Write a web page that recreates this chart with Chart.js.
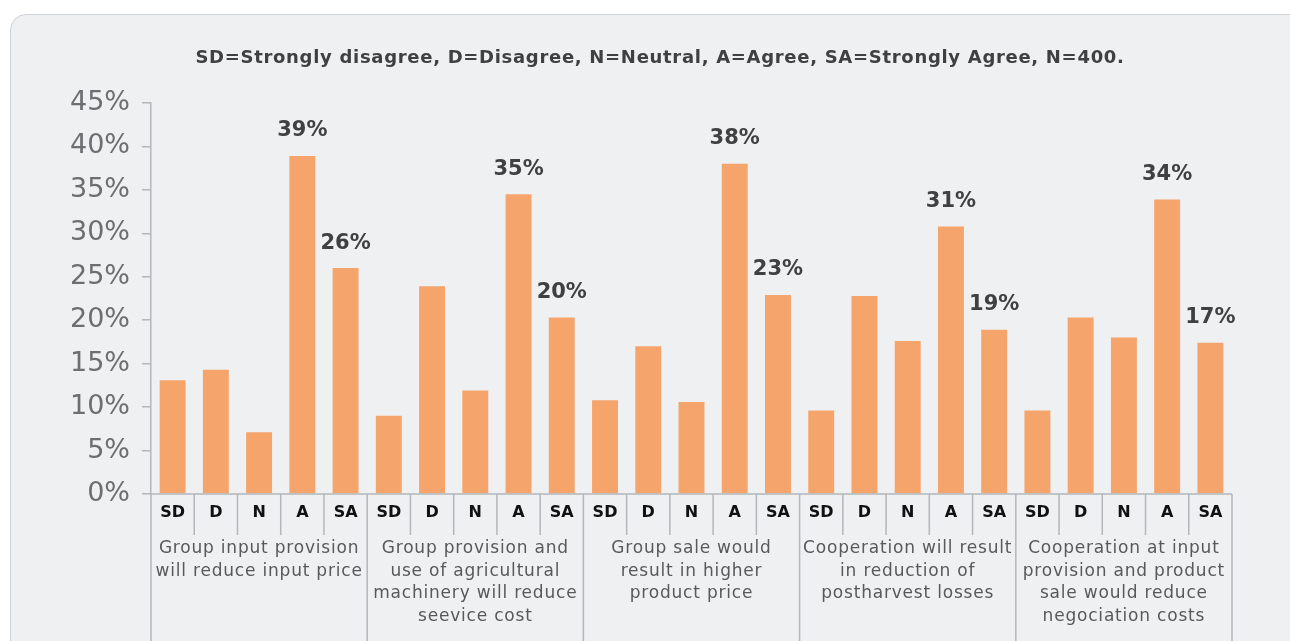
<!DOCTYPE html>
<html>
<head>
<meta charset="utf-8">
<script src="https://cdn.jsdelivr.net/npm/chart.js@4"></script>
<style>
  html, body { margin: 0; padding: 0; background: #ffffff; overflow: hidden; }
  .wrap { position: relative; width: 1290px; height: 641px; }
  .card {
    position: absolute; left: 10px; top: 14px; width: 1320px; height: 680px;
    background: #eff0f2; border: 1.5px solid #cfd3d7; border-radius: 16px;
  }
  canvas { position: absolute; left: 0; top: 0; }
</style>
</head>
<body>
<div class="wrap">
  <div class="card"></div>
  <canvas id="likertChart" width="1290" height="641"></canvas>
</div>
<script>
// answer levels inside each statement
const categories = ['SD', 'D', 'N', 'A', 'SA'];

// statements (already broken into lines like the original)
const statements = [
  ['Group input provision', 'will reduce input price'],
  ['Group provision and', 'use of agricultural', 'machinery will reduce', 'seevice cost'],
  ['Group sale would', 'result in higher', 'product price'],
  ['Cooperation will result', 'in reduction of', 'postharvest losses'],
  ['Cooperation at input', 'provision and product', 'sale would reduce', 'negociation costs']
];

// share of respondents (%) per answer level, one array per statement
const inputPrice = [13.1, 14.3, 7.1, 38.9, 26.0];
const machineryCost = [9.0, 23.9, 11.9, 34.5, 20.3];
const saleProductPrice = [10.8, 17.0, 10.6, 38.0, 22.9];
const postharvestLosses = [9.6, 22.8, 17.6, 30.8, 18.9];
const negotiationCosts = [9.6, 20.3, 18.0, 33.9, 17.4];

const yTicks = [0, 5, 10, 15, 20, 25, 30, 35, 40, 45];
const labelledLevels = ['A', 'SA'];
const titleText = 'SD=Strongly disagree, D=Disagree, N=Neutral, A=Agree, SA=Strongly Agree, N=400.';

const FONT = '"DejaVu Sans", "Noto Sans", sans-serif';
const LINE = '#b4b6b9';

const labels = [];
statements.forEach(() => categories.forEach(c => labels.push(c)));
const values = [].concat(inputPrice, machineryCost, saleProductPrice, postharvestLosses, negotiationCosts);

// draws title, value labels and the two-level category axis
const decorations = {
  id: 'decorations',
  afterDraw(chart) {
    const ctx = chart.ctx;
    const x = chart.scales.x;
    const area = chart.chartArea;
    const n = labels.length;
    const step = (area.right - area.left) / n;

    ctx.save();

    // title
    ctx.fillStyle = '#3f4042';
    ctx.font = 'bold 18px ' + FONT;
    ctx.letterSpacing = '0.7px';
    ctx.textAlign = 'center';
    ctx.textBaseline = 'middle';
    ctx.fillText(titleText, 660, 58);

    // value labels above A and SA bars
    const meta = chart.getDatasetMeta(0);
    ctx.font = 'bold 21px ' + FONT;
    ctx.letterSpacing = '0px';
    ctx.fillStyle = '#3f4042';
    meta.data.forEach((bar, i) => {
      if (labelledLevels.includes(labels[i])) {
        ctx.fillText(Math.round(values[i]) + '%', bar.x, bar.y - 25);
      }
    });

    // base line + separators
    ctx.strokeStyle = LINE;
    ctx.lineWidth = 1.5;
    ctx.beginPath();
    ctx.moveTo(area.left, area.bottom);
    ctx.lineTo(area.right, area.bottom);
    for (let i = 0; i <= n; i++) {
      const px = area.left + i * step;
      ctx.moveTo(px, area.bottom);
      ctx.lineTo(px, i % categories.length === 0 ? chart.height : area.bottom + 41);
    }
    ctx.stroke();

    // answer level labels
    ctx.fillStyle = '#111111';
    ctx.font = 'bold 16px ' + FONT;
    labels.forEach((lab, i) => {
      ctx.fillText(lab, x.getPixelForValue(i), area.bottom + 19);
    });

    // statement labels
    ctx.fillStyle = '#58595b';
    ctx.font = '17px ' + FONT;
    ctx.letterSpacing = '0.8px';
    statements.forEach((lines, g) => {
      const first = x.getPixelForValue(g * categories.length);
      const last = x.getPixelForValue(g * categories.length + categories.length - 1);
      const cx = (first + last) / 2;
      lines.forEach((line, k) => {
        ctx.fillText(line, cx, area.bottom + 55 + k * 22.5);
      });
    });

    ctx.restore();
  }
};

new Chart(document.getElementById('likertChart').getContext('2d'), {
  type: 'bar',
  data: {
    labels: labels,
    datasets: [{
      data: values,
      backgroundColor: '#f5a46b',
      borderWidth: 0,
      barPercentage: 0.6,
      categoryPercentage: 1.0
    }]
  },
  options: {
    responsive: false,
    animation: false,
    layout: { padding: { top: 103, right: 58, bottom: 147, left: 0 } },
    plugins: {
      legend: { display: false },
      tooltip: { enabled: false },
      title: { display: false }
    },
    scales: {
      x: { display: false },
      y: {
        min: 0,
        max: 45,
        afterFit: scale => { scale.width = 151; },
        afterBuildTicks: scale => { scale.ticks = yTicks.map(v => ({ value: v })); },
        ticks: {
          padding: 12,
          color: '#6d6e70',
          font: { family: FONT, size: 27 },
          callback: v => v + '%'
        },
        grid: { drawOnChartArea: false, drawTicks: true, tickLength: 9, color: LINE, lineWidth: 1.5 },
        border: { color: LINE, width: 1.5 }
      }
    }
  },
  plugins: [decorations]
});
</script>
</body>
</html>
